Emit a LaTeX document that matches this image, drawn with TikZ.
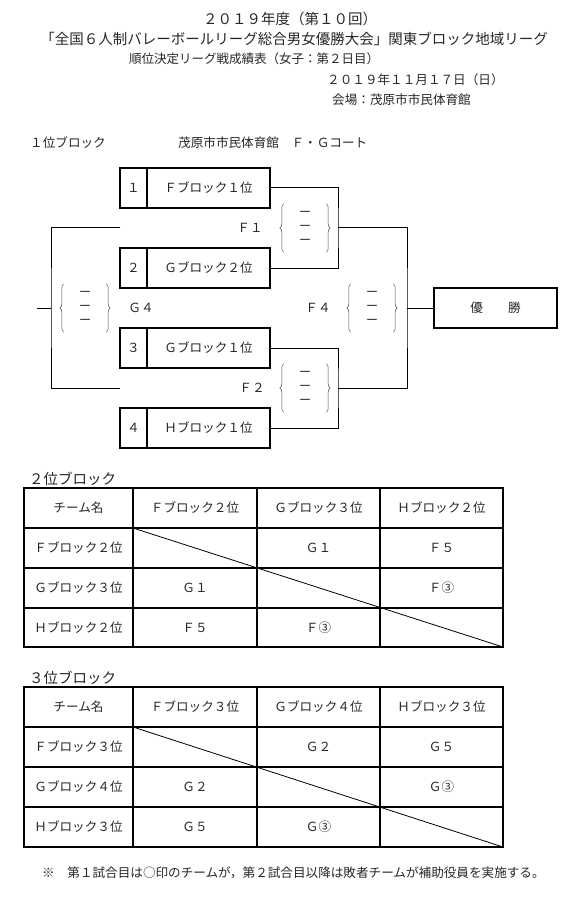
\documentclass[tikz,border=0pt]{standalone}
\usepackage{fontspec}
\setmainfont{Noto Sans CJK JP}
\usetikzlibrary{decorations.pathreplacing}

\begin{document}
\begin{tikzpicture}[
    x=1pt, y=-1pt,
    txt/.style={inner sep=0pt, font=\fontsize{12.6}{14}\selectfont, text=black!85},
    big/.style={inner sep=0pt, font=\fontsize{14.5}{16}\selectfont, text=black!85},
    numbox/.style={draw, line width=1.2pt, minimum width=27pt, minimum height=40pt, inner sep=0pt, font=\fontsize{12.6}{14}\selectfont, text=black!85},
    namebox/.style={draw, line width=1.2pt, minimum width=123pt, minimum height=40pt, inner sep=0pt, font=\fontsize{12.6}{14}\selectfont, text=black!85},
    link/.style={line width=1pt},
    score/.style={minimum width=42pt, minimum height=48pt, inner sep=0pt, align=center, font=\fontsize{12}{14}\selectfont, text=black!80},
    brace/.style={decorate, decoration={brace, amplitude=4pt}, line width=0.5pt, black!70},
    tabline/.style={line width=1.3pt},
    diag/.style={line width=0.8pt}
]
    \useasboundingbox (0,0) rectangle (585,901);

    % header
    \node[big] (head1) at (290,19) {２０１９年度（第１０回）};
    \node[big] (head2) at (294,39) {「全国６人制バレーボールリーグ総合男女優勝大会」関東ブロック地域リーグ};
    \node[txt, font=\fontsize{12.5}{14}\selectfont] (head3) at (254,59) {順位決定リーグ戦成績表（女子：第２日目）};
    \node[txt, anchor=west] (date) at (327,80) {２０１９年１１月１７日（日）};
    \node[txt, anchor=west] (venue) at (332,100) {会場：茂原市市民体育館};

    % 1位ブロック
    \node[txt, anchor=west] (blk1) at (30,143) {１位ブロック};
    \node[txt, anchor=west] (court) at (178,143) {茂原市市民体育館　Ｆ・Ｇコート};

    \node[numbox] (n1) at (133.5,188) {１};
    \node[namebox] (b1) at (208.5,188) {Ｆブロック１位};
    \node[numbox] (n2) at (133.5,268) {２};
    \node[namebox] (b2) at (208.5,268) {Ｇブロック２位};
    \node[numbox] (n3) at (133.5,348) {３};
    \node[namebox] (b3) at (208.5,348) {Ｇブロック１位};
    \node[numbox] (n4) at (133.5,428) {４};
    \node[namebox] (b4) at (208.5,428) {Ｈブロック１位};
    \node[namebox] (win) at (495.5,308) {優　　勝};

    \coordinate (jf1) at (338,228);
    \coordinate (jf2) at (338,388);
    \coordinate (jf4) at (407,308);
    \coordinate (lf1) at (120,228);
    \coordinate (lf2) at (120,388);
    \coordinate (jg4) at (51,308);
    \coordinate (eg4) at (37,308);

    \draw[link] (b1.east) -| (jf1) |- (b2.east);
    \draw[link] (b3.east) -| (jf2) |- (b4.east);
    \draw[link] (jf1) -| (jf4) |- (jf2);
    \draw[link] (jf4) -- (win.west);
    \draw[link] (lf1) -| (jg4) |- (lf2);
    \draw[link] (eg4) -- (jg4);

    \node[txt] (lf1t) at (250,228) {Ｆ１};
    \node[txt] (lf2t) at (252,388) {Ｆ２};
    \node[txt] (lf4t) at (318,308) {Ｆ４};
    \node[txt] (lg4t) at (141,308) {Ｇ４};

    \node[score] (sf1) at (305,228) {ー\\ー\\ー};
    \node[score] (sf2) at (305,388) {ー\\ー\\ー};
    \node[score] (sf4) at (372,308) {ー\\ー\\ー};
    \node[score] (sg4) at (85,308) {ー\\ー\\ー};
    \foreach \s in {sf1,sf2,sf4,sg4} {
        \draw[brace] (\s.south west) -- (\s.north west);
        \draw[brace] (\s.north east) -- (\s.south east);
    }

    % 2位ブロック
    \node[big, anchor=west] (blk2) at (29,479) {２位ブロック};
    \draw[tabline] (24,488) rectangle (503,647);
    \draw[tabline] (133,488) -- (133,647) (257,488) -- (257,647) (380,488) -- (380,647);
    \draw[tabline] (24,528) -- (503,528) (24,568) -- (503,568) (24,608) -- (503,608);
    \draw[diag] (133,528) -- (503,647);

    \node[txt] (p0) at (78.5,508) {チーム名};
    \node[txt] (p01) at (195,508) {Ｆブロック２位};
    \node[txt] (p02) at (318.5,508) {Ｇブロック３位};
    \node[txt] (p03) at (441.5,508) {Ｈブロック２位};
    \node[txt] (p10) at (78.5,548) {Ｆブロック２位};
    \node[txt] (p12) at (318.5,548) {Ｇ１};
    \node[txt] (p13) at (441.5,548) {Ｆ５};
    \node[txt] (p20) at (78.5,588) {Ｇブロック３位};
    \node[txt] (p21) at (195,588) {Ｇ１};
    \node[txt] (p23) at (441.5,588) {Ｆ③};
    \node[txt] (p30) at (78.5,627.5) {Ｈブロック２位};
    \node[txt] (p31) at (195,627.5) {Ｆ５};
    \node[txt] (p32) at (318.5,627.5) {Ｆ③};

    % 3位ブロック
    \node[big, anchor=west] (blk3) at (29,678) {３位ブロック};
    \draw[tabline] (24,687) rectangle (503,847);
    \draw[tabline] (133,687) -- (133,847) (257,687) -- (257,847) (380,687) -- (380,847);
    \draw[tabline] (24,727) -- (503,727) (24,767) -- (503,767) (24,807) -- (503,807);
    \draw[diag] (133,727) -- (503,847);

    \node[txt] (q0) at (78.5,707) {チーム名};
    \node[txt] (q01) at (195,707) {Ｆブロック３位};
    \node[txt] (q02) at (318.5,707) {Ｇブロック４位};
    \node[txt] (q03) at (441.5,707) {Ｈブロック３位};
    \node[txt] (q10) at (78.5,747) {Ｆブロック３位};
    \node[txt] (q12) at (318.5,747) {Ｇ２};
    \node[txt] (q13) at (441.5,747) {Ｇ５};
    \node[txt] (q20) at (78.5,787) {Ｇブロック４位};
    \node[txt] (q21) at (195,787) {Ｇ２};
    \node[txt] (q23) at (441.5,787) {Ｇ③};
    \node[txt] (q30) at (78.5,827) {Ｈブロック３位};
    \node[txt] (q31) at (195,827) {Ｇ５};
    \node[txt] (q32) at (318.5,827) {Ｇ③};

    \node[txt, anchor=west] (note) at (42,873) {※　第１試合目は○印のチームが，第２試合目以降は敗者チームが補助役員を実施する。};
\end{tikzpicture}
\end{document}
